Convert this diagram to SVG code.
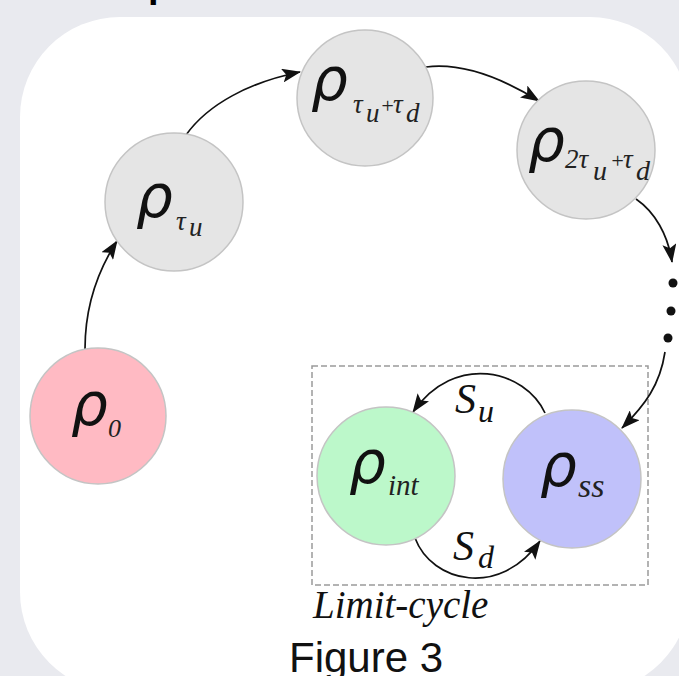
<svg xmlns="http://www.w3.org/2000/svg" width="679" height="676" viewBox="0 0 679 676">
<defs>
<style>
.bg{fill:#e9eaef}
.panel{fill:#ffffff}
.node{stroke:#c4c4c4;stroke-width:1.5}
.gray{fill:#e5e5e5}
.pink{fill:#ffbac3}
.green{fill:#bcf8ca}
.blue{fill:#c0c1fa}
.rho{font-family:"DejaVu Sans",sans-serif;font-style:italic;font-size:58px;fill:#111}
.sub{font-family:"Liberation Serif",serif;font-style:italic;fill:#222}
.edge{fill:none;stroke:#111;stroke-width:1.7}
.lbl{font-family:"Liberation Serif",serif;font-style:italic;fill:#111}
</style>
<marker id="ah" viewBox="0 0 19 14" refX="18" refY="7" markerWidth="19" markerHeight="14" markerUnits="userSpaceOnUse" orient="auto">
<path d="M0,0 L19,7 L0,14 L4,7 z" fill="#111"/>
</marker>
</defs>
<rect class="bg" x="0" y="0" width="679" height="676"/>
<text x="148" y="-3" font-family="Liberation Sans,sans-serif" font-weight="bold" font-size="38" fill="#000">p</text>
<rect class="panel" x="20" y="17" width="670" height="675" rx="100" ry="100"/>

<g id="limit-cycle">
<rect x="312" y="366" width="336" height="219" fill="none" stroke="#9a9a9a" stroke-width="1.5" stroke-dasharray="6 3"/>
<text x="313" y="618" class="lbl" font-size="39" fill="#333">Limit-cycle</text>
</g>

<g id="connectors">
<path class="edge" d="M85,349 C85,310 95,275 117,241" marker-end="url(#ah)"/>
<path class="edge" d="M186,135 C208,104 250,82 300,72" marker-end="url(#ah)"/>
<path class="edge" d="M426,67 C465,62 505,80 539,101" marker-end="url(#ah)"/>
<path class="edge" d="M636,199 C655,212 668,235 672,262" marker-end="url(#ah)"/>
<path class="edge" d="M665,352 C660,385 645,405 622,428" marker-end="url(#ah)"/>
<path class="edge" d="M545,413 C525,370 455,352 413,412" marker-end="url(#ah)"/>
<path class="edge" d="M415,538 C432,583 500,598 540,541" marker-end="url(#ah)"/>
<text x="455" y="413" class="lbl" font-size="42">S</text>
<text x="478" y="422" class="lbl" font-size="32">u</text>
<text x="453" y="560" class="lbl" font-size="42">S</text>
<text x="478" y="568" class="lbl" font-size="32">d</text>
<circle cx="673" cy="283" r="4.5" fill="#111"/>
<circle cx="671" cy="311" r="4.5" fill="#111"/>
<circle cx="668" cy="338" r="4.5" fill="#111"/>
</g>

<g id="rho0">
<circle class="node pink" cx="98" cy="416" r="68"/>
<text x="71" y="425" class="rho">ρ</text>
<text x="108" y="437" class="sub" font-size="26">0</text>
</g>

<g id="rho-tau-u">
<circle class="node gray" cx="174" cy="202" r="69"/>
<text x="136" y="217" class="rho">ρ</text>
<text x="176" y="230" class="sub" font-size="27">τ</text>
<text x="189" y="236" class="sub" font-size="27">u</text>
</g>

<g id="rho-tau-u-tau-d">
<circle class="node gray" cx="365" cy="98" r="68"/>
<text x="311" y="100" class="rho">ρ</text>
<text x="353" y="113" class="sub" font-size="27">τ</text>
<text x="366" y="122" class="sub" font-size="27">u</text>
<text x="380" y="113" class="sub" font-size="22" font-style="normal">+</text>
<text x="393" y="113" class="sub" font-size="27">τ</text>
<text x="406" y="122" class="sub" font-size="27">d</text>
</g>

<g id="rho-2tau-u-tau-d">
<circle class="node gray" cx="586" cy="150" r="69"/>
<text x="528" y="161" class="rho">ρ</text>
<text x="565" y="168" class="sub" font-size="27">2τ</text>
<text x="593" y="180" class="sub" font-size="28">u</text>
<text x="610" y="168" class="sub" font-size="22" font-style="normal">+</text>
<text x="623" y="168" class="sub" font-size="27">τ</text>
<text x="636" y="180" class="sub" font-size="28">d</text>
</g>

<g id="rho-int">
<circle class="node green" cx="386" cy="476" r="69"/>
<text x="349" y="483" class="rho">ρ</text>
<text x="388" y="495" class="sub" font-size="29">int</text>
</g>

<g id="rho-ss">
<circle class="node blue" cx="572" cy="479" r="69"/>
<text x="540" y="486" class="rho">ρ</text>
<text x="578" y="497" class="sub" font-size="34">ss</text>
</g>

<text x="289" y="672" font-family="Liberation Sans,sans-serif" font-size="42" fill="#111">Figure 3</text>
</svg>
